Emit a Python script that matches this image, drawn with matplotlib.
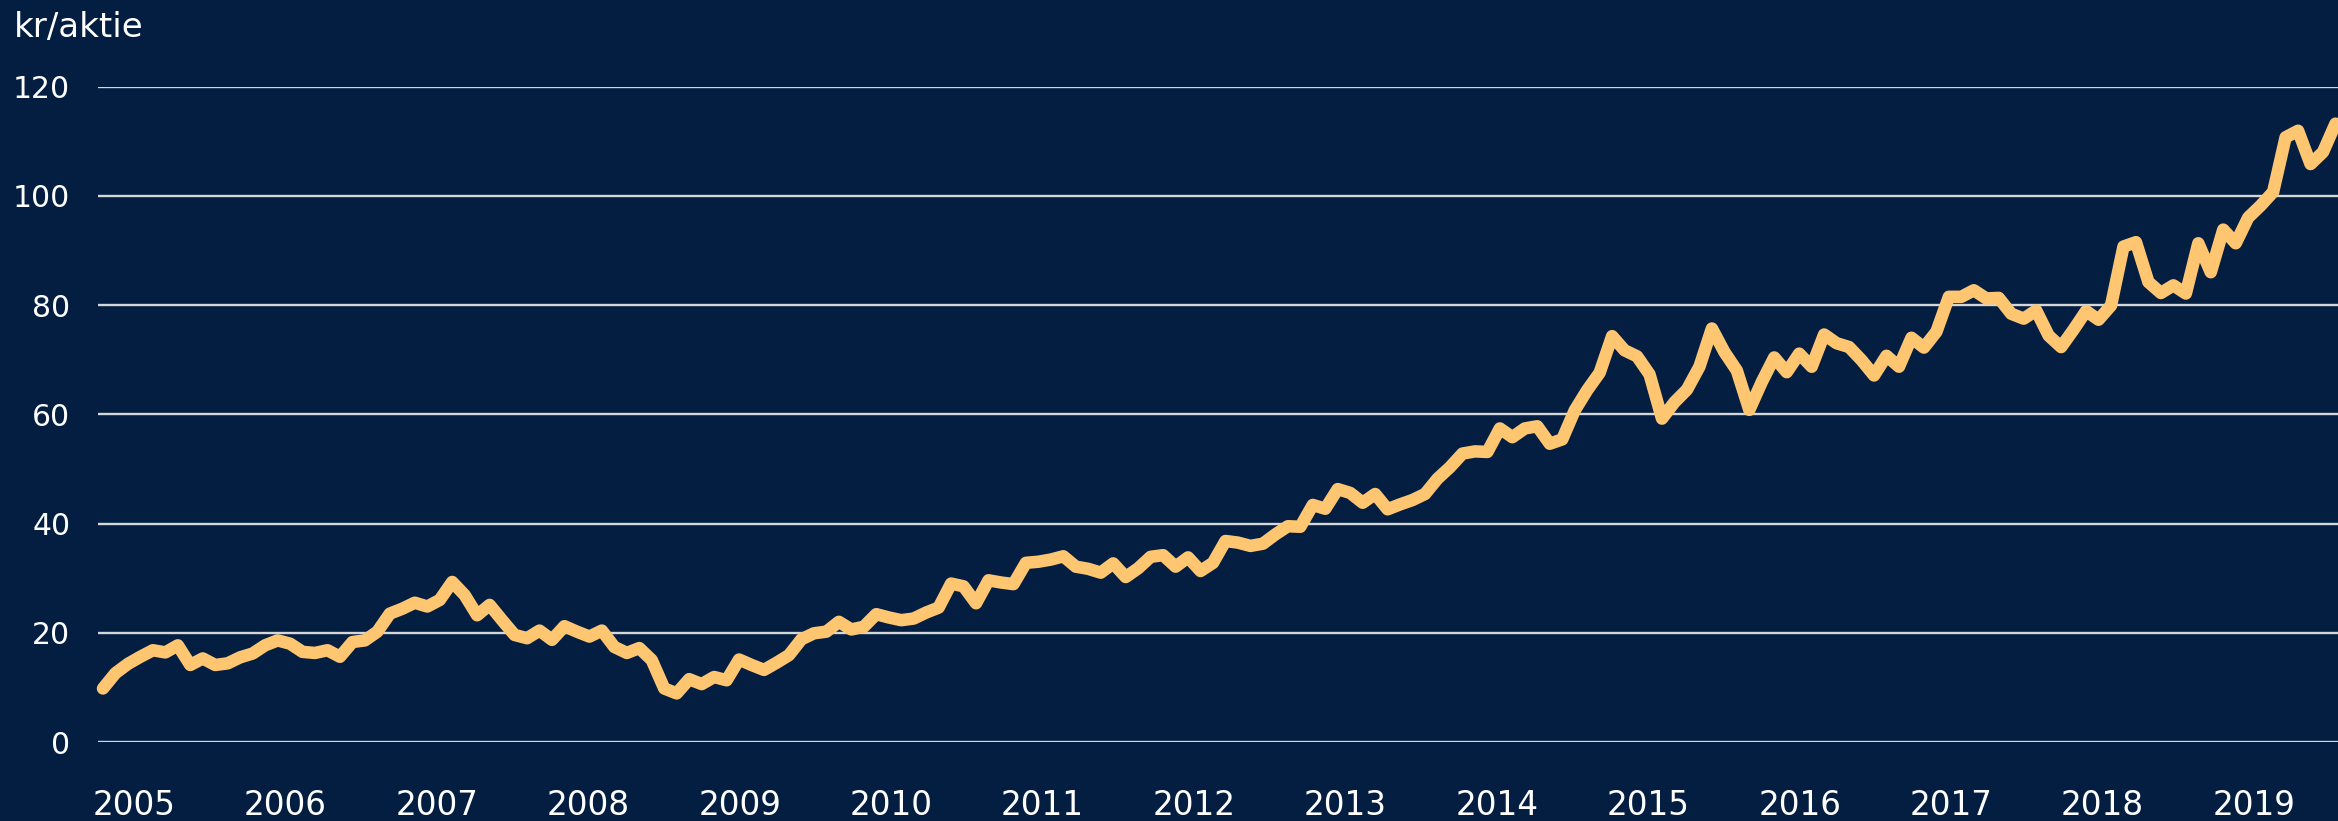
import matplotlib.pyplot as plt
import numpy as np

# kr/aktie, månadsvärden från slutet av 2004 till mitten av 2019
values = [9.8, 12.6, 14.3, 15.6, 16.8, 16.4, 17.7, 14.1, 15.3, 14.1,
          14.4, 15.5, 16.2, 17.7, 18.6, 18.0, 16.5, 16.3, 16.8, 15.6,
          18.3, 18.6, 20.2, 23.5, 24.4, 25.5, 24.8, 26.0, 29.3, 26.9,
          23.2, 25.1, 22.3, 19.6, 19.0, 20.4, 18.7, 21.2, 20.2, 19.3,
          20.4, 17.4, 16.3, 17.2, 15.0, 9.8, 8.9, 11.5, 10.6, 11.9,
          11.3, 15.1, 14.1, 13.2, 14.5, 15.9, 18.8, 19.9, 20.2, 22.0,
          20.6, 21.1, 23.4, 22.8, 22.3, 22.6, 23.7, 24.6, 29.0, 28.5,
          25.4, 29.6, 29.2, 28.9, 32.8, 33.0, 33.4, 34.0, 32.1, 31.7,
          31.0, 32.7, 30.2, 31.8, 33.9, 34.2, 32.1, 33.8, 31.3, 32.8,
          36.8, 36.5, 35.9, 36.3, 38.0, 39.5, 39.4, 43.4, 42.7, 46.3,
          45.6, 43.8, 45.4, 42.6, 43.5, 44.3, 45.4, 48.2, 50.3, 52.8,
          53.2, 53.1, 57.4, 55.8, 57.4, 57.8, 54.6, 55.4, 60.7, 64.4,
          67.6, 74.3, 71.7, 70.6, 67.3, 59.2, 62.2, 64.5, 68.7, 75.7,
          71.4, 68.0, 60.8, 65.9, 70.4, 67.7, 71.1, 68.7, 74.6, 73.0,
          72.3, 69.9, 67.1, 70.7, 68.7, 74.0, 72.2, 75.1, 81.5, 81.5,
          82.7, 81.2, 81.3, 78.4, 77.5, 79.0, 74.4, 72.3, 75.5, 78.9,
          77.3, 79.9, 90.7, 91.5, 84.2, 82.2, 83.6, 82.1, 91.3, 86.0,
          93.8, 91.3, 96.0, 98.2, 100.7, 110.7, 111.9, 105.8, 108.0, 113.2]
years = [str(y) for y in range(2005, 2020)]
y_ticks = [0, 20, 40, 60, 80, 100, 120]

bg = '#031e41'
line_col = '#ffc672'
grid_col = '#d4d6da'

x = np.arange(len(values))
year_pos = 2.49 + 12.14 * np.arange(len(years))

fig = plt.figure(figsize=(23.38, 8.21), dpi=100)
fig.patch.set_facecolor(bg)
ax = fig.add_axes([98 / 2338, 1 - 742 / 821, 1 - 98 / 2338, (742 - 86.5) / 821])
ax.set_facecolor(bg)

for v in y_ticks:
    ax.axhline(v, color=grid_col, lw=1.7, zorder=1)

ax.plot(x, values, color=line_col, lw=9, solid_joinstyle='round',
        solid_capstyle='round', zorder=3, clip_on=False)

ax.set_xlim(-0.4, 179.2)
ax.set_ylim(0, 120)
ax.set_yticks(y_ticks)
ax.set_yticklabels([str(v) for v in y_ticks])
ax.set_xticks(year_pos)
ax.set_xticklabels(years)

for s in ax.spines.values():
    s.set_visible(False)
ax.tick_params(axis='y', length=0, pad=20, labelsize=21.5, labelcolor='white')
ax.tick_params(axis='x', length=0, pad=34, labelsize=23.5, labelcolor='white')

fig.text(14 / 2338, 1 - 37.3 / 821, 'kr/aktie', color='white', fontsize=24.5,
         ha='left', va='baseline')

fig.savefig('out.png', dpi=100, facecolor=bg)
